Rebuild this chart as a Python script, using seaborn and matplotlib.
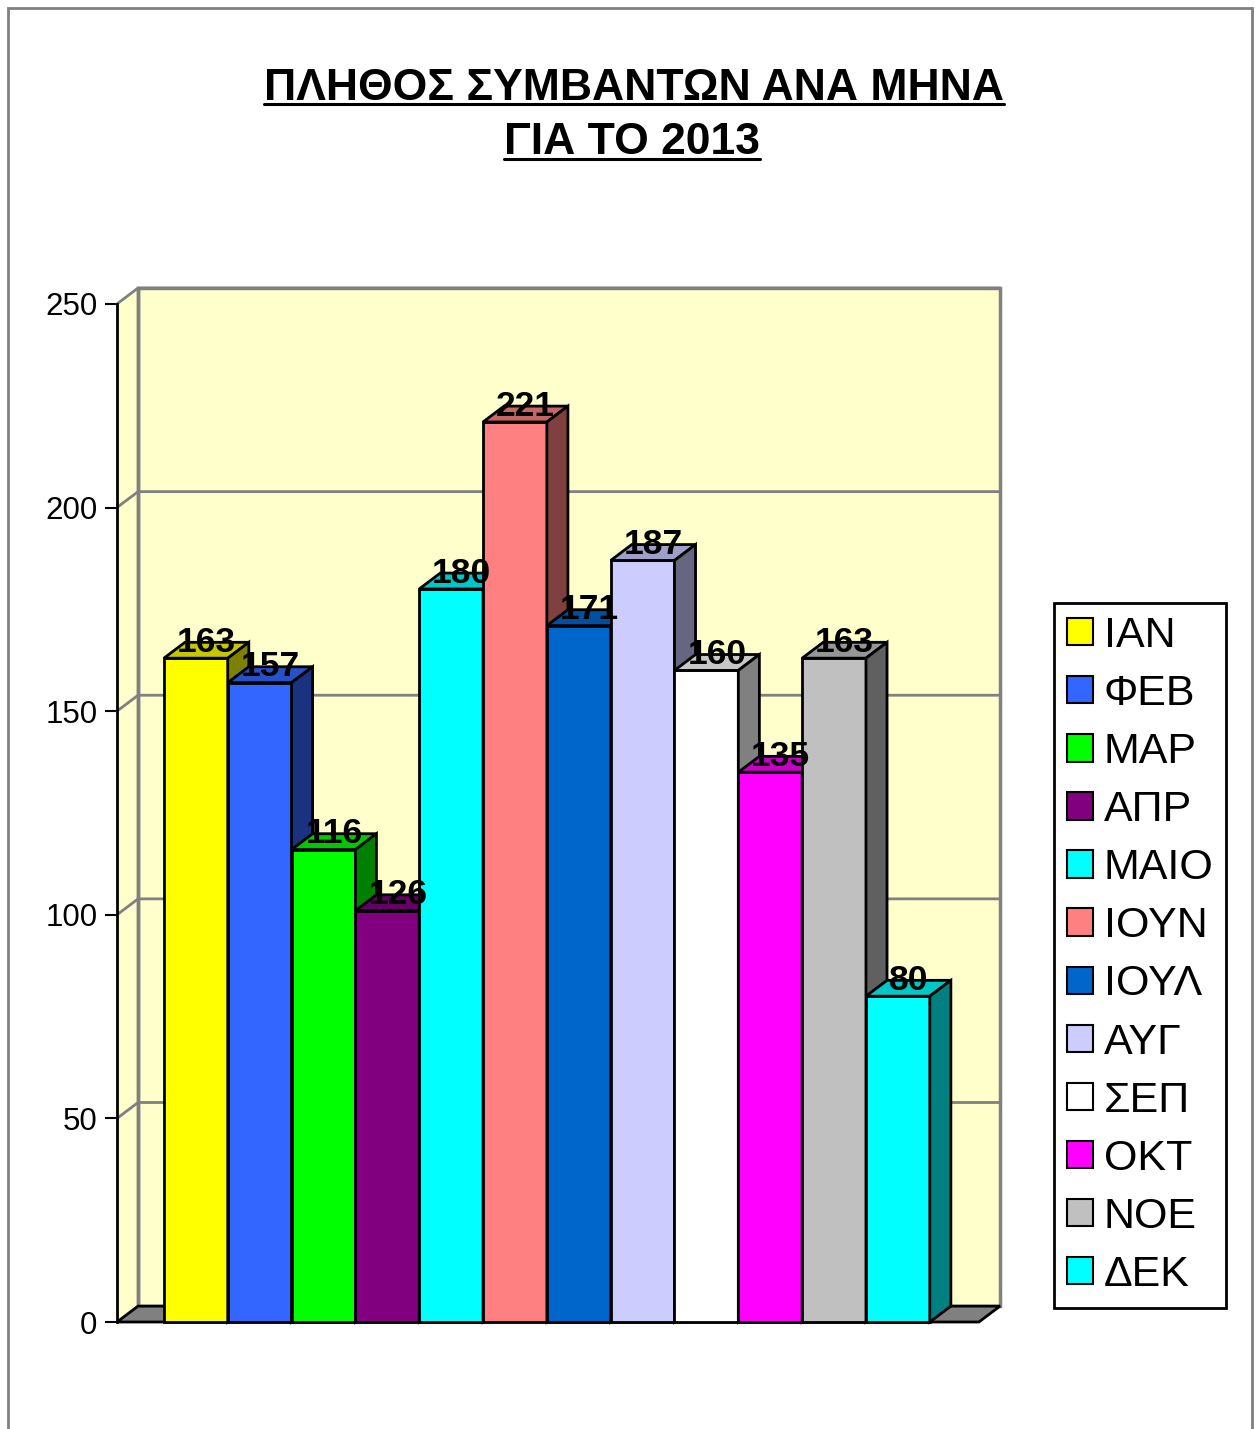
import matplotlib
matplotlib.use('Agg')
import matplotlib.pyplot as plt
from matplotlib.patches import Polygon, Patch, Rectangle
from matplotlib.lines import Line2D
import seaborn as sns
import pandas as pd

# chart data
months = ['ΙΑΝ', 'ΦΕΒ', 'ΜΑΡ', 'ΑΠΡ', 'ΜΑΙΟ', 'ΙΟΥΝ', 'ΙΟΥΛ', 'ΑΥΓ', 'ΣΕΠ', 'ΟΚΤ', 'ΝΟΕ', 'ΔΕΚ']
bar_heights = [163, 157, 116, 101, 180, 221, 171, 187, 160, 135, 163, 80]
label_values = [163, 157, 116, 126, 180, 221, 171, 187, 160, 135, 163, 80]
front_colors = ['#FFFF00', '#3366FF', '#00FF00', '#800080', '#00FFFF', '#FF8080',
                '#0066CC', '#CCCCFF', '#FFFFFF', '#FF00FF', '#C0C0C0', '#00FFFF']
yticks = [0, 50, 100, 150, 200, 250]
title_lines = ['ΠΛΗΘΟΣ ΣΥΜΒΑΝΤΩΝ ΑΝΑ ΜΗΝΑ', 'ΓΙΑ ΤΟ 2013']

sns.set_style('white')
plt.rcParams['font.family'] = ['Liberation Sans', 'DejaVu Sans']
plt.rcParams['text.color'] = 'black'
plt.rcParams['ytick.color'] = 'black'
plt.rcParams['ytick.labelcolor'] = 'black'


def shade(hex_color, k):
    r, g, b = matplotlib.colors.to_rgb(hex_color)
    return (r * k, g * k, b * k)


W, H = 1255, 1429
fig = plt.figure(figsize=(W / 100, H / 100), dpi=100)
fig.patch.set_facecolor('white')

# 3D depth offset (data units) and front plane limits
DX, DY = 0.33, 3.9
x0, x1 = -1.235, 12.27
ymax = 250

ax = fig.add_axes([117 / W, (H - 1322) / H, 883 / W, 1034 / H])
ax.set_facecolor('none')

df = pd.DataFrame({'month': months, 'value': bar_heights})
sns.barplot(data=df, x='month', y='value', hue='month', palette=front_colors,
            width=1.0, edgecolor='black', linewidth=2, legend=False, ax=ax,
            saturation=1)

ax.set_xlim(x0, x1 + DX)
ax.set_ylim(0, ymax + DY)

wall_col = '#FFFFCC'
grid_col = '#808080'
# back wall
ax.add_patch(Rectangle((x0 + DX, DY), x1 - x0, ymax, facecolor=wall_col,
                       edgecolor=grid_col, lw=2.5, zorder=0.5, clip_on=False))
# left side wall
ax.add_patch(Polygon([(x0, 0), (x0 + DX, DY), (x0 + DX, ymax + DY), (x0, ymax)],
                     closed=True, facecolor=wall_col, edgecolor='none', zorder=0.4, clip_on=False))
# gridlines
for v in yticks[1:]:
    ax.plot([x0, x0 + DX, x1 + DX], [v, v + DY, v + DY], color=grid_col, lw=2,
            zorder=0.8, clip_on=False)
ax.plot([x0 + DX, x0 + DX], [DY, ymax + DY], color=grid_col, lw=2.5, zorder=0.8, clip_on=False)
# floor
ax.add_patch(Polygon([(x0, 0), (x1, 0), (x1 + DX, DY), (x0 + DX, DY)], closed=True,
                     facecolor='#808080', edgecolor='black', lw=2, zorder=1, clip_on=False))

# 3D faces of the bars
for p in ax.patches:
    if not isinstance(p, Rectangle) or p.get_width() != 1.0:
        continue
    i = int(round(p.get_x() + 0.5))
    if i < 0 or i >= len(months):
        continue
    h = bar_heights[i]
    c = front_colors[i]
    p.set_zorder(10 + 3 * i)
    p.set_clip_on(False)
    left, right = i - 0.5, i + 0.5
    top = Polygon([(left, h), (right, h), (right + DX, h + DY), (left + DX, h + DY)],
                  closed=True, facecolor=shade(c, 0.78), edgecolor='black', lw=2,
                  zorder=11 + 3 * i, clip_on=False)
    side = Polygon([(right, 0), (right + DX, DY), (right + DX, h + DY), (right, h)],
                   closed=True, facecolor=shade(c, 0.5), edgecolor='black', lw=2,
                   zorder=12 + 3 * i, clip_on=False)
    ax.add_patch(top)
    ax.add_patch(side)

# data labels
for i, (h, lab) in enumerate(zip(bar_heights, label_values)):
    ax.text(i + DX / 2, h + DY, str(lab), ha='center', va='center', fontsize=25.5,
            fontweight='bold', color='black', zorder=100)

# axes styling
for s in ['top', 'right', 'bottom']:
    ax.spines[s].set_visible(False)
ax.spines['left'].set_bounds(0, ymax)
ax.spines['left'].set_color('black')
ax.spines['left'].set_linewidth(2)
ax.spines['left'].set_zorder(5)
ax.set_yticks(yticks)
ax.set_yticklabels([str(t) for t in yticks])
ax.tick_params(axis='y', direction='out', length=8.6, width=1.5, color='black',
               labelcolor='black', labelsize=22.5, pad=5.5, left=True)
ax.set_xticks([])
ax.set_xlabel('')
ax.set_ylabel('')

# legend
handles = [Patch(facecolor=c, edgecolor='black', lw=1.5) for c in front_colors]
leg = fig.legend(handles, months, loc='upper left', bbox_to_anchor=(1054 / W, 1 - 603 / H),
                 fontsize=31, frameon=True, fancybox=False, framealpha=1,
                 edgecolor='black', handlelength=0.6, handleheight=0.6,
                 handletextpad=0.25, labelspacing=0.42, borderpad=0.3, borderaxespad=0)
leg.get_frame().set_linewidth(2)
for txt in leg.get_texts():
    txt.set_color('black')

# title with underline
t1 = fig.text(634 / W, 1 - 88 / H, title_lines[0], ha='center', va='center',
              fontsize=32, fontweight='bold', color='black')
t2 = fig.text(632 / W, 1 - 143 / H, title_lines[1], ha='center', va='center',
              fontsize=32, fontweight='bold', color='black')
fig.canvas.draw()
r = fig.canvas.get_renderer()
for t in (t1, t2):
    bb = t.get_window_extent(r)
    y = (bb.y0 + 5) / H
    fig.add_artist(Line2D([bb.x0 / W, bb.x1 / W], [y, y], color='black', lw=2.2,
                          transform=fig.transFigure))

# outer border
fig.add_artist(Rectangle((8 / W, -0.01), (1252 - 8) / W, 1 - 8 / H + 0.01,
                         transform=fig.transFigure, fill=False, edgecolor='#808080', lw=2))

fig.savefig('out.png', dpi=100)
